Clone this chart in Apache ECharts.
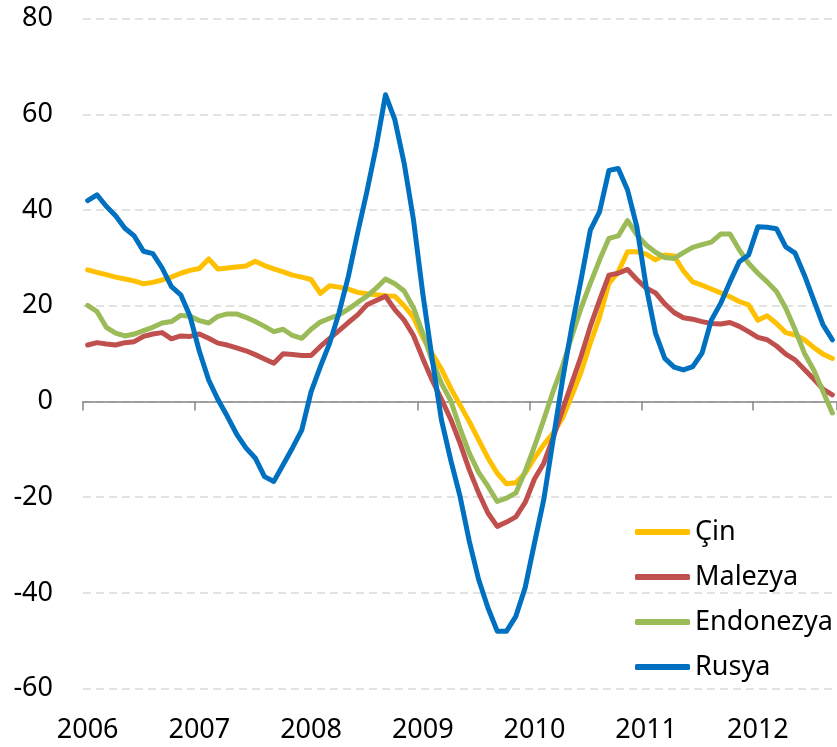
<!DOCTYPE html>
<html>
<head>
<meta charset="utf-8">
<script src="https://cdn.jsdelivr.net/npm/echarts@6/dist/echarts.min.js"></script>
<style>
  html, body { margin: 0; padding: 0; background: #fff; }
  #chart { width: 837px; height: 747px; }
</style>
</head>
<body>
<div id="chart"></div>
<script>
// yillar (tick labels), aylik veri Ocak 2006 - Eylul 2012
const years = ['2006', '2007', '2008', '2009', '2010', '2011', '2012'];
const lastYearMonths = 9;

const cin = [
  27.5, 27.0, 26.5, 26.0, 25.6, 25.2, 24.6, 24.9, 25.4, 26.0, 26.8, 27.4,
  27.8, 29.8, 27.7, 27.9, 28.1, 28.3, 29.3, 28.4, 27.7, 27.1, 26.4, 26.0,
  25.5, 22.6, 24.2, 23.9, 23.5, 22.8, 22.5, 22.3, 22.1, 22.0, 20.0, 17.6,
  13.4, 10.0, 6.8, 2.8, -0.7, -4.2, -8.0, -11.8, -15.0, -17.2, -17.0, -15.0,
  -11.8, -9.0, -6.6, -3.5, 1.2, 6.1, 12.2, 17.7, 24.7, 27.1, 31.3, 31.3,
  30.8, 29.6, 30.6, 30.4, 27.3, 25.0, 24.3, 23.5, 22.7, 21.9, 20.9, 20.2,
  17.0, 17.9, 16.3, 14.4, 13.9, 12.9, 11.3, 9.9, 9.0
];
const malezya = [
  11.8, 12.3, 12.0, 11.8, 12.3, 12.5, 13.6, 14.1, 14.4, 13.1, 13.7, 13.6,
  14.1, 13.2, 12.2, 11.8, 11.2, 10.6, 9.8, 8.9, 8.0, 10.0, 9.8, 9.6,
  9.6, 11.5, 13.2, 14.8, 16.5, 18.1, 20.2, 21.1, 22.0, 19.2, 17.0, 13.8,
  9.0, 4.5, 0.5, -3.7, -8.7, -14.3, -19.1, -23.3, -26.1, -25.2, -24.1, -21.1,
  -16.2, -12.9, -7.6, -1.8, 3.8, 9.4, 15.7, 21.2, 26.4, 26.8, 27.6, 25.5,
  23.7, 22.7, 20.4, 18.6, 17.5, 17.2, 16.7, 16.3, 16.2, 16.5, 15.7, 14.6,
  13.4, 12.9, 11.6, 9.9, 8.7, 6.7, 4.7, 2.6, 1.4
];
const endonezya = [
  20.1, 18.8, 15.5, 14.3, 13.7, 14.1, 14.8, 15.5, 16.4, 16.7, 18.0, 17.8,
  16.9, 16.4, 17.8, 18.3, 18.3, 17.6, 16.7, 15.7, 14.6, 15.1, 13.8, 13.2,
  15.1, 16.6, 17.4, 18.1, 19.3, 20.7, 22.0, 23.7, 25.6, 24.6, 23.1, 19.6,
  14.3, 8.5, 3.8, 0.2, -5.6, -10.8, -14.8, -17.7, -20.9, -20.2, -19.1, -14.6,
  -9.4, -3.8, 2.1, 7.3, 13.6, 19.5, 24.7, 29.6, 34.1, 34.6, 37.8, 34.8,
  32.7, 31.2, 30.1, 29.9, 31.1, 32.2, 32.8, 33.3, 35.0, 35.0, 31.7, 28.9,
  26.8, 25.0, 23.0, 19.5, 15.0, 10.1, 6.6, 2.1, -2.4
];
const rusya = [
  42.0, 43.2, 40.8, 38.8, 36.2, 34.6, 31.4, 30.9, 27.9, 24.0, 22.3, 17.8,
  10.5, 4.5, 0.4, -3.1, -6.8, -9.7, -11.8, -15.7, -16.7, -13.2, -9.7, -6.0,
  2.0, 7.3, 12.2, 18.5, 26.1, 35.2, 43.9, 53.3, 64.1, 58.9, 49.8, 38.0,
  22.6, 9.0, -3.8, -12.2, -19.8, -29.2, -37.2, -43.1, -48.0, -48.0, -44.9, -38.9,
  -29.6, -20.5, -8.0, 4.3, 15.5, 25.4, 35.8, 39.7, 48.3, 48.7, 44.2, 36.5,
  24.0, 14.3, 9.0, 7.2, 6.6, 7.3, 10.1, 17.0, 20.5, 25.0, 29.2, 30.6,
  36.5, 36.4, 36.1, 32.3, 31.0, 26.4, 21.2, 16.0, 12.9
];

const seriesNames = ['Çin', 'Malezya', 'Endonezya', 'Rusya'];
const seriesColors = ['#FFC000', '#C0504D', '#9BBB59', '#0070C0'];

// ay kategorileri: "2006-01" ...
const months = [];
years.forEach((y, yi) => {
  const n = yi === years.length - 1 ? lastYearMonths : 12;
  for (let m = 1; m <= n; m++) {
    months.push(y + '-' + (m < 10 ? '0' + m : m));
  }
});

const FONT = 'Noto Sans';
const chart = echarts.init(document.getElementById('chart'));

const option = {
  animation: false,
  textStyle: { fontFamily: FONT },
  grid: {
    left: 83,
    right: 0,
    top: 18.7,
    bottom: 58.4,
    containLabel: false
  },
  legend: {
    orient: 'vertical',
    left: 635,
    top: 517,
    padding: 0,
    icon: 'roundRect',
    itemWidth: 55,
    itemHeight: 6,
    itemGap: 15,
    textStyle: {
      fontFamily: FONT,
      fontSize: 27,
      color: '#000',
      lineHeight: 30
    },
    data: seriesNames
  },
  xAxis: [
    {
      // veri ekseni: sifir cizgisi ve yillik tikler
      type: 'category',
      data: months,
      boundaryGap: true,
      axisLine: {
        show: true,
        onZero: true,
        lineStyle: { color: '#868686', width: 1.5 }
      },
      axisTick: {
        show: true,
        inside: false,
        alignWithLabel: false,
        interval: 11,
        length: 9,
        lineStyle: { color: '#868686', width: 1.5 }
      },
      axisLabel: { show: false },
      splitLine: { show: false }
    },
    {
      // sadece alttaki yil etiketleri
      type: 'category',
      data: months,
      position: 'bottom',
      boundaryGap: true,
      axisLine: { show: false, onZero: false },
      axisTick: { show: false },
      axisLabel: {
        interval: 11,
        margin: 28,
        fontFamily: FONT,
        fontSize: 27,
        color: '#000',
        formatter: (v) => v.slice(0, 4)
      },
      splitLine: { show: false }
    }
  ],
  yAxis: {
    type: 'value',
    min: -60,
    max: 80,
    interval: 20,
    axisLine: { show: false },
    axisTick: { show: false },
    axisLabel: {
      margin: 30,
      fontFamily: FONT,
      fontSize: 27,
      color: '#000'
    },
    splitLine: {
      show: true,
      lineStyle: { color: '#D9D9D9', width: 1.5, type: [8, 5] }
    }
  },
  series: [cin, malezya, endonezya, rusya].map((vals, i) => ({
    name: seriesNames[i],
    type: 'line',
    xAxisIndex: 0,
    data: vals,
    showSymbol: false,
    symbol: 'none',
    color: seriesColors[i],
    lineStyle: { width: 5, color: seriesColors[i], cap: 'round', join: 'round' },
    z: 2 + i
  }))
};

chart.setOption(option);
</script>
</body>
</html>
